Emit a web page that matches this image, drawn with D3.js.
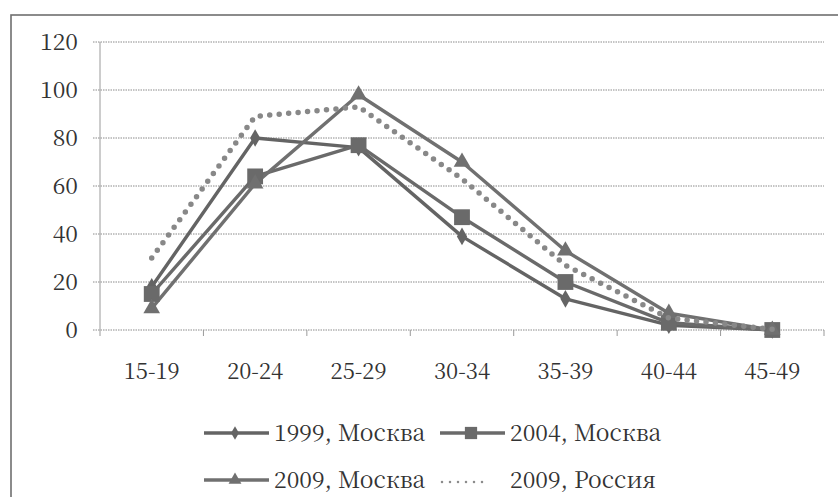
<!DOCTYPE html>
<html><head><meta charset="utf-8">
<script src="https://cdn.jsdelivr.net/npm/d3@7"></script>
<style>
html,body{margin:0;padding:0;background:#fff;}
</style></head>
<body>
<svg id="chart" width="838" height="497"></svg>
<script>
const categories = ["15-19","20-24","25-29","30-34","35-39","40-44","45-49"];
const yTicks = [0,20,40,60,80,100,120];
const seriesNames = ["1999, Москва","2004, Москва","2009, Москва","2009, Россия"];
const moscow1999 = [18, 80, 76, 39, 13, 2, 0];
const moscow2004 = [15, 64, 77, 47, 20, 3, 0];
const moscow2009 = [9, 61, 98, 70, 33, 7, 0];
const russia2009 = [30, 89, 93, 63, 27, 5, 0.3];

const FONT = "'Noto Serif CJK SC'";
const svg = d3.select("#chart");
const x = d3.scaleBand().domain(categories).range([100, 824]);
const y = d3.scaleLinear().domain([0,120]).range([330, 42]);

// outer frame
svg.append("rect").attr("x",11).attr("y",15).attr("width",840).attr("height",500)
  .attr("fill","none").attr("stroke","#6f6f6f").attr("stroke-width",1.6);

// gridlines
svg.append("g").selectAll("line").data(yTicks).join("line")
  .attr("x1",93).attr("x2",824).attr("y1",d=>y(d)).attr("y2",d=>y(d))
  .attr("stroke","#8a8a8a").attr("stroke-width",1).attr("stroke-dasharray","1.5 1");

// y axis line
svg.append("line").attr("x1",100).attr("x2",100).attr("y1",y(120)).attr("y2",y(0))
  .attr("stroke","#9a9a9a").attr("stroke-width",1);

// x ticks at band boundaries
const bounds = categories.map(c=>x(c)).concat([x.range()[1]]);
svg.append("g").selectAll("line").data(bounds).join("line")
  .attr("x1",d=>d).attr("x2",d=>d).attr("y1",y(0)).attr("y2",y(0)+6)
  .attr("stroke","#9a9a9a").attr("stroke-width",1);

// y tick labels
svg.append("g").selectAll("text").data(yTicks).join("text")
  .attr("font-family",FONT).attr("fill","#333")
  .attr("x",78).attr("y",d=>y(d)).attr("dy","0.35em").attr("text-anchor","end")
  .attr("font-size",23).text(d=>d);

// x tick labels
svg.append("g").selectAll("text").data(categories).join("text")
  .attr("font-family",FONT).attr("fill","#333")
  .attr("x",d=>x(d)+x.bandwidth()/2).attr("y",371).attr("dy","0.35em")
  .attr("text-anchor","middle").attr("font-size",22).text(d=>d);

const cx = (d,i)=>x(categories[i])+x.bandwidth()/2;
const line = d3.line().x(cx).y(d=>y(d));

const series = [
  {name:seriesNames[0], values:moscow1999, sym:d3.symbolDiamond, size:90, color:"#646464"},
  {name:seriesNames[1], values:moscow2004, sym:d3.symbolSquare, size:250, color:"#6a6a6a"},
  {name:seriesNames[2], values:moscow2009, sym:d3.symbolTriangle, size:120, color:"#707070"},
];

series.forEach(s=>{
  svg.append("path").datum(s.values).attr("d",line).attr("fill","none")
    .attr("stroke",s.color).attr("stroke-width",3.4).attr("stroke-linejoin","round");
});
series.forEach(s=>{
  svg.append("g").selectAll("path").data(s.values).join("path")
    .attr("transform",(d,i)=>`translate(${cx(d,i)},${y(d)})`)
    .attr("d",d3.symbol().type(s.sym).size(s.size)).attr("fill",s.color);
});
// Russia dotted
svg.append("path").datum(russia2009).attr("d",line).attr("fill","none")
  .attr("stroke","#888").attr("stroke-width",5.5).attr("stroke-linecap","round")
  .attr("stroke-dasharray","0 9.5");

// legend
const leg = svg.append("g");
const entries = [
  {s:series[0], sx:204, ty:433},
  {s:series[1], sx:440, ty:433},
  {s:series[2], sx:204, ty:480},
  {s:{name:seriesNames[3], dotted:true}, sx:440, ty:480},
];
entries.forEach(e=>{
  if(e.s.dotted){
    leg.append("line").attr("x1",e.sx+2).attr("x2",e.sx+50).attr("y1",e.ty+2).attr("y2",e.ty+2)
      .attr("stroke","#8c8c8c").attr("stroke-width",2.5).attr("stroke-linecap","round")
      .attr("stroke-dasharray","0 8");
  } else {
    leg.append("line").attr("x1",e.sx).attr("x2",e.sx+65).attr("y1",e.ty).attr("y2",e.ty)
      .attr("stroke",e.s.color).attr("stroke-width",3.4);
    leg.append("path").attr("transform",`translate(${e.sx+31},${e.ty})`)
      .attr("d",d3.symbol().type(e.s.sym).size(e.s.size*0.6)).attr("fill",e.s.color);
  }
  leg.append("text").attr("font-family",FONT).attr("fill","#333")
    .attr("x",e.sx+70).attr("y",e.ty).attr("dy","0.35em")
    .attr("font-size",23).text(e.s.name);
});
</script>
</body></html>
